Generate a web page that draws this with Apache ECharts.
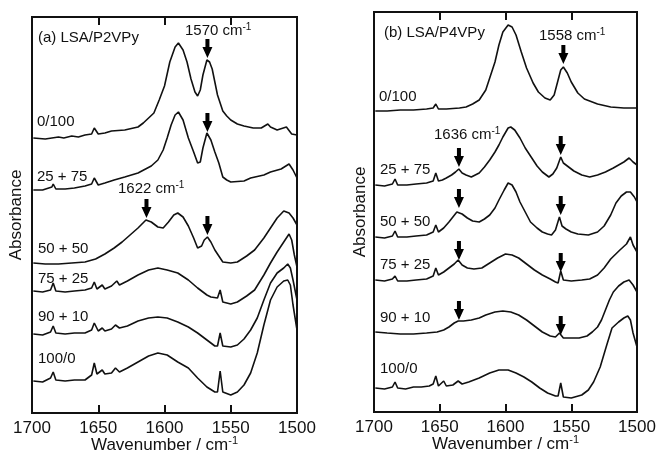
<!DOCTYPE html>
<html>
<head>
<meta charset="utf-8">
<script src="https://cdn.jsdelivr.net/npm/echarts@6/dist/echarts.min.js"></script>
<style>html,body{margin:0;padding:0;background:#fff}#main{width:660px;height:453px}</style>
</head>
<body>
<div id="main"></div>
<script>
// spectra, [wavenumber, offset absorbance]  (panel a: LSA/P2VPy)
var a_0_100 = [[1699,275],[1690,274],[1680,276],[1676,275],[1670,277],[1665,276],[1660,278],[1655,279],[1653,285],[1650,279],[1645,280],[1640,282],[1630,283],[1620,286],[1616,290],[1612,295],[1608,300],[1604,313],[1600,327],[1596,351],[1592,366],[1589.5,370],[1586,363],[1583,351],[1580,334],[1577,321],[1575,317],[1573,323],[1571,338],[1568,353],[1566,351],[1564,344],[1562,331],[1560,318],[1556,302],[1553,297],[1550,293],[1545,289],[1540,287],[1533,285],[1527,285],[1522,289],[1520,286],[1515,283],[1508,286],[1504,279],[1500,278]];
var a_25_75 = [[1699,223],[1692,223],[1685,226],[1684,229],[1682,224],[1675,224],[1668,225],[1660,227],[1655,229],[1653,235],[1650,228],[1645,230],[1638,233],[1630,236],[1620,240],[1610,247],[1605,253],[1601,263],[1598,275],[1595,288],[1592,298],[1589.5,301],[1586,293],[1582,275],[1578,261],[1575,250],[1573,251],[1571,265],[1568,280],[1565,273],[1562,261],[1559,250],[1556,236],[1553,233],[1550,231],[1540,232],[1535,235],[1525,238],[1520,241],[1512,244],[1506,249],[1503,243],[1500,235]];
var a_50_50 = [[1699,150],[1690,149],[1680,149],[1670,150],[1660,151],[1652,154],[1645,159],[1638,165],[1632,171],[1626,178],[1620,185],[1614,193],[1610,191],[1605,186],[1601,185],[1597,191],[1593,198],[1590,200],[1586,196],[1582,187],[1578,175],[1575,165],[1572,167],[1570,173],[1567.6,176],[1565,171],[1562,163],[1559,157],[1556,151],[1550,150],[1545,151],[1538,157],[1532,163],[1525,175],[1520,185],[1515,195],[1510,202],[1506,200],[1503,195],[1500,188]];
var a_75_25 = [[1699,122],[1692,121],[1686,123],[1684,130],[1682,122],[1675,121],[1668,122],[1660,123],[1655,125],[1653,131],[1651,124],[1647,128],[1645,124],[1640,127],[1636,132],[1634,128],[1628,132],[1620,138],[1612,143],[1605,145],[1598,143],[1590,140],[1582,133],[1575,125],[1568,118],[1565,116],[1560,115],[1558,123],[1556,111],[1550,109],[1545,111],[1538,117],[1532,123],[1525,138],[1520,150],[1515,161],[1510,171],[1506,179],[1504,173],[1502,158],[1500,146]];
var a_90_10 = [[1699,79],[1692,78],[1686,81],[1684,87],[1682,80],[1675,79],[1668,80],[1660,80],[1655,83],[1653,90],[1650,82],[1647,85],[1645,82],[1640,84],[1637,88],[1634,85],[1628,87],[1620,92],[1612,95],[1605,96],[1598,95],[1590,91],[1582,86],[1575,80],[1568,73],[1562,67],[1560,67],[1558,80],[1556,67],[1550,66],[1545,68],[1540,74],[1535,83],[1530,95],[1525,113],[1520,130],[1515,140],[1510,145],[1507,149],[1505,145],[1503,133],[1500,113]];
var a_100_0 = [[1699,32],[1692,31],[1686,35],[1684,41],[1682,33],[1675,32],[1668,33],[1660,33],[1655,38],[1653,50],[1651,39],[1647,43],[1645,39],[1640,40],[1637,45],[1634,41],[1628,45],[1620,51],[1612,57],[1605,60],[1598,58],[1590,51],[1582,45],[1575,35],[1568,26],[1562,21],[1560,21],[1558,42],[1556,21],[1550,18],[1545,21],[1540,28],[1535,40],[1530,60],[1525,88],[1520,113],[1515,126],[1510,132],[1507,133],[1505,128],[1503,108],[1500,83]];

// panel b: LSA/P4VPy
var b_0_100 = [[1699,301],[1690,301],[1680,302],[1670,302],[1660,303],[1655,304],[1653,308],[1651,303],[1645,303],[1635,304],[1630,305],[1625,308],[1620,312],[1615,322],[1612,334],[1608,350],[1605,367],[1602,380],[1598,387],[1595,385],[1592,377],[1588,360],[1584,344],[1579,329],[1575,320],[1570,314],[1566,312],[1563,317],[1560,332],[1558,342],[1556,345],[1553,339],[1550,330],[1545,319],[1540,313],[1530,308],[1520,305],[1510,304],[1500,304]];
var b_25_75 = [[1699,227],[1692,226],[1686,228],[1684,233],[1682,227],[1675,227],[1668,228],[1660,229],[1655,231],[1653,239],[1651,231],[1648,232],[1645,234],[1641,237],[1638,240],[1635.5,243],[1633,239],[1630,237],[1626,235],[1620,239],[1616,245],[1612,252],[1608,260],[1605,267],[1602,275],[1598,284],[1596,285],[1593,282],[1589,274],[1585,264],[1580,254],[1576,246],[1572,240],[1567,235],[1564,238],[1561,244],[1558,255],[1556,249],[1553,246],[1548,241],[1542,237],[1536,235],[1530,237],[1524,240],[1518,244],[1514,247],[1510,250],[1506,254],[1503,250],[1500,247]];
var b_50_50 = [[1699,175],[1692,174],[1686,176],[1684,181],[1682,175],[1675,175],[1668,176],[1660,177],[1655,180],[1653,187],[1651,180],[1647,184],[1643,190],[1640,195],[1637,200],[1635.5,202],[1633,198],[1629,194],[1625,191],[1620,190],[1616,193],[1612,197],[1608,204],[1605,212],[1601,222],[1598,229],[1595,227],[1592,220],[1589,210],[1585,200],[1581,190],[1576,184],[1572,180],[1568,178],[1565,177],[1562,182],[1559,195],[1557,186],[1554,183],[1550,180],[1545,178],[1537,177],[1530,180],[1525,186],[1520,197],[1516,209],[1512,216],[1508,220],[1505,220],[1502,215],[1500,210]];
var b_75_25 = [[1699,132],[1692,131],[1686,133],[1684,136],[1682,131],[1675,131],[1668,132],[1660,133],[1655,136],[1653,144],[1651,137],[1647,140],[1643,144],[1639,148],[1636,152],[1633,147],[1629,144],[1624,143],[1618,144],[1612,149],[1606,154],[1600,158],[1595,157],[1590,154],[1584,148],[1578,142],[1572,137],[1566,133],[1562,130],[1560,129],[1558,141],[1556,132],[1550,131],[1542,132],[1536,133],[1530,137],[1525,144],[1520,153],[1513,162],[1508,168],[1505,175],[1503,167],[1500,160]];
var b_90_10 = [[1699,80],[1690,79],[1680,78],[1670,78],[1660,79],[1652,80],[1647,82],[1643,85],[1639,89],[1636,91],[1632,91],[1626,92],[1620,94],[1615,97],[1608,100],[1602,101],[1596,100],[1590,97],[1584,92],[1578,86],[1572,80],[1566,76],[1562,75],[1559,79],[1556,74],[1550,74],[1544,74],[1538,76],[1534,80],[1530,85],[1527,92],[1524,102],[1521,112],[1518,120],[1514,126],[1510,130],[1506,132],[1503,127],[1500,120]];
var b_100_0 = [[1699,24],[1692,23],[1686,25],[1684,30],[1682,24],[1676,23],[1670,25],[1664,25],[1658,26],[1655,28],[1653,36],[1651,26],[1647,31],[1645,26],[1640,27],[1636,31],[1633,28],[1628,30],[1620,34],[1612,39],[1605,42],[1598,42],[1592,39],[1586,35],[1580,30],[1574,24],[1568,19],[1562,16],[1560,16],[1558,29],[1556,15],[1550,14],[1542,17],[1537,22],[1533,30],[1528,45],[1523,67],[1519,84],[1514,90],[1510,94],[1507,96],[1505,92],[1503,79],[1500,65]];

// arrow tips
var a_arrows = [[1567.6,355],[1567.6,281],[1613.6,195],[1567.6,178]];
var b_arrows = [[1556,348],[1635.4,245],[1558,257],[1635.4,204],[1558,197],[1635.4,152],[1558,140],[1635.4,92],[1558,77]];

var myChart = echarts.init(document.getElementById('main'));
var FONT = 'Liberation Sans';
var INK = '#111';
var arrowPath = 'path://M3,0 L7,0 L7,8 L10,8 L5,19 L0,8 L3,8 Z';

function curve(data, gi) {
    return {
        type: 'line', data: data, xAxisIndex: gi * 2, yAxisIndex: gi,
        showSymbol: false, symbol: 'none', silent: true,
        lineStyle: { color: INK, width: 1.6 }
    };
}
function arrows(data, gi) {
    return {
        type: 'scatter', data: data, xAxisIndex: gi * 2, yAxisIndex: gi,
        symbol: arrowPath, symbolSize: [10, 19], symbolOffset: [0, '-50%'],
        itemStyle: { color: '#000', opacity: 1 }, silent: true, z: 5
    };
}
function bottomAxis(gi) {
    return {
        type: 'value', gridIndex: gi, min: 1500, max: 1700, interval: 50, inverse: true,
        axisLine: { show: true, lineStyle: { color: INK, width: 2 } },
        axisTick: { inside: true, length: 8, lineStyle: { color: INK, width: 2 } },
        axisLabel: { color: INK, fontSize: 17, fontFamily: FONT, margin: 7,
            formatter: function (v) { return String(v); } },
        splitLine: { show: false },
        name: '{n|Wavenumber / cm}{s|-1}', nameLocation: 'middle', nameGap: 22,
        nameMoveOverlap: false,
        nameTextStyle: { rich: {
            n: { fontSize: 17, fontFamily: FONT, color: INK },
            s: { fontSize: 11, fontFamily: FONT, color: INK, verticalAlign: 'bottom', padding: [0, 0, 9, 0] }
        } }
    };
}
function topAxis(gi) {
    return {
        type: 'value', gridIndex: gi, position: 'top', min: 1500, max: 1700, interval: 50, inverse: true,
        axisLine: { show: true, lineStyle: { color: INK, width: 2 } },
        axisTick: { inside: true, length: 8, lineStyle: { color: INK, width: 2 } },
        axisLabel: { show: false }, splitLine: { show: false }
    };
}
function yAx(gi, max, gap) {
    return {
        type: 'value', gridIndex: gi, min: 0, max: max,
        axisLine: { show: false }, axisTick: { show: false }, axisLabel: { show: false },
        splitLine: { show: false },
        name: 'Absorbance', nameLocation: 'middle', nameGap: gap,
        nameTextStyle: { fontSize: 17, fontFamily: FONT, color: INK }
    };
}

var sup = {
    t: { fontSize: 15, fontFamily: FONT, fill: INK },
    s: { fontSize: 10, fontFamily: FONT, fill: INK, verticalAlign: 'bottom', padding: [0, 0, 8, 0] }
};
function label(x, y, txt) {
    return { type: 'text', left: x, top: y - 10, z: 10,
        style: { text: txt, fontSize: 15, fontFamily: FONT, fill: INK, rich: sup } };
}

option = {
    backgroundColor: '#fff',
    animation: false,
    grid: [
        { left: 32, right: 363, top: 17, bottom: 40, show: true, borderColor: INK, borderWidth: 2,
          containLabel: false, outerBoundsMode: 'none' },
        { left: 374, right: 23, top: 12, bottom: 41, show: true, borderColor: INK, borderWidth: 2,
          containLabel: false, outerBoundsMode: 'none' }
    ],
    xAxis: [bottomAxis(0), topAxis(0), bottomAxis(1), topAxis(1)],
    yAxis: [yAx(0, 396, 7), yAx(1, 400, 5)],
    series: [
        curve(a_0_100, 0), curve(a_25_75, 0), curve(a_50_50, 0),
        curve(a_75_25, 0), curve(a_90_10, 0), curve(a_100_0, 0),
        curve(b_0_100, 1), curve(b_25_75, 1), curve(b_50_50, 1),
        curve(b_75_25, 1), curve(b_90_10, 1), curve(b_100_0, 1),
        arrows(a_arrows, 0), arrows(b_arrows, 1)
    ],
    graphic: [
        label(38, 40, '(a) LSA/P2VPy'),
        label(185, 32, '{t|1570 cm}{s|-1}'),
        label(37, 124, '0/100'),
        label(37, 179, '25 + 75'),
        label(118, 190, '{t|1622 cm}{s|-1}'),
        label(38, 251, '50 + 50'),
        label(38, 281, '75 + 25'),
        label(38, 319, '90 + 10'),
        label(38, 361, '100/0'),
        label(384, 35, '(b) LSA/P4VPy'),
        label(539, 37, '{t|1558 cm}{s|-1}'),
        label(379, 99, '0/100'),
        label(434, 136, '{t|1636 cm}{s|-1}'),
        label(380, 172, '25 + 75'),
        label(380, 224, '50 + 50'),
        label(380, 267, '75 + 25'),
        label(380, 320, '90 + 10'),
        label(380, 371, '100/0')
    ]
};

myChart.setOption(option);
</script>
</body>
</html>
